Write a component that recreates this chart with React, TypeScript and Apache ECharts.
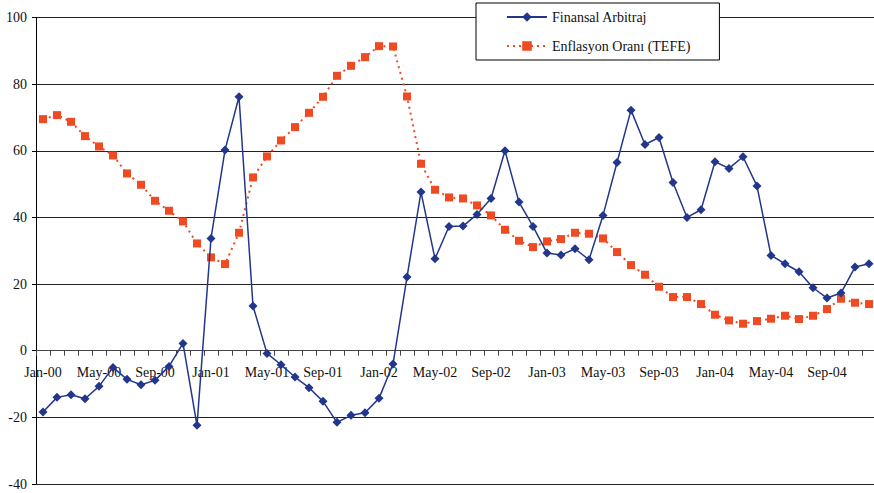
import React, { useEffect, useRef } from "react";
import * as echarts from "echarts";

const months = ["Jan", "Feb", "Mar", "Apr", "May", "Jun", "Jul", "Aug", "Sep", "Oct", "Nov", "Dec"];
const years = ["00", "01", "02", "03", "04"];
const categories: string[] = years.flatMap((y) => months.map((m) => `${m}-${y}`));

const arbitraj = [
  -18.4, -14.0, -13.2, -14.4, -10.7, -5.0, -8.6, -10.2, -8.9, -4.7, 2.2, -22.4,
  33.7, 60.2, 76.2, 13.4, -0.8, -4.2, -7.9, -11.1, -15.2, -21.5, -19.4, -18.6,
  -14.3, -4.0, 22.1, 47.6, 27.6, 37.3, 37.4, 40.9, 45.7, 60.0, 44.6, 37.3,
  29.3, 28.7, 30.6, 27.3, 40.6, 56.5, 72.2, 61.9, 64.0, 50.5, 40.0, 42.3,
  56.7, 54.7, 58.2, 49.4, 28.6, 26.1, 23.7, 18.9, 15.8, 17.3, 25.1, 26.1,
];

const tefe = [
  69.5, 70.7, 68.7, 64.4, 61.3, 58.6, 53.2, 49.8, 45.0, 42.0, 38.8, 32.2,
  28.0, 26.0, 35.4, 52.0, 58.3, 63.1, 67.1, 71.4, 76.2, 82.5, 85.5, 88.1,
  91.4, 91.3, 76.3, 56.1, 48.3, 46.0, 45.7, 43.6, 40.6, 36.3, 33.0, 31.1,
  32.8, 33.5, 35.4, 35.1, 33.7, 29.6, 25.7, 22.8, 19.2, 16.1, 16.1, 14.0,
  10.8, 9.1, 8.1, 8.9, 9.6, 10.5, 9.5, 10.5, 12.5, 15.6, 14.4, 14.0,
];

const seriesNames = ["Finansal Arbitraj", "Enflasyon Oranı (TEFE)"];
const FONT = "Liberation Serif";

const Y_MIN = -40;
const Y_MAX = 100;
const GRID_TOP = 17.5;
const GRID_H = 466.5;
// move the category axis up from the grid bottom to the value 0
const ZERO_OFFSET = -(GRID_H * (0 - Y_MIN)) / (Y_MAX - Y_MIN);

export default function App() {
  const ref = useRef<HTMLDivElement>(null);
  useEffect(() => {
    if (!ref.current) return;
    const chart = echarts.init(ref.current, null, { renderer: "svg" });
    chart.setOption({
      animation: false,
      backgroundColor: "#fff",
      textStyle: { fontFamily: FONT },
      grid: {
        left: 36,
        top: GRID_TOP,
        width: 840,
        height: GRID_H,
        containLabel: false,
        outerBoundsMode: "none",
      },
      legend: {
        orient: "vertical",
        left: 476,
        top: 3,
        padding: [7, 29, 7, 30],
        itemGap: 15,
        itemWidth: 40,
        itemHeight: 12,
        backgroundColor: "#fff",
        borderColor: "#000",
        borderWidth: 1,
        textStyle: { fontFamily: FONT, fontSize: 14, color: "#111" },
        data: seriesNames,
      },
      xAxis: {
        type: "category",
        data: categories,
        boundaryGap: true,
        position: "bottom",
        offset: ZERO_OFFSET,
        axisLine: { onZero: false, lineStyle: { color: "#444", width: 1 } },
        axisTick: { show: true, interval: 0, length: 5, inside: false, lineStyle: { color: "#444" } },
        axisLabel: { interval: 3, fontFamily: FONT, fontSize: 14, color: "#111", margin: 15 },
        splitLine: { show: false },
      },
      yAxis: {
        type: "value",
        min: Y_MIN,
        max: Y_MAX,
        interval: 20,
        axisLine: { show: true, lineStyle: { color: "#000", width: 1 } },
        axisTick: { show: true, length: 4, lineStyle: { color: "#000" } },
        axisLabel: { fontFamily: FONT, fontSize: 14, color: "#111", margin: 9 },
        splitLine: { show: true, lineStyle: { color: "#222", width: 1 } },
      },
      series: [
        {
          name: seriesNames[0],
          type: "line",
          data: arbitraj,
          symbol: "diamond",
          symbolSize: 9,
          itemStyle: { color: "#22368C" },
          lineStyle: { color: "#22368C", width: 1.5 },
          z: 3,
        },
        {
          name: seriesNames[1],
          type: "line",
          data: tefe,
          symbol: "rect",
          symbolSize: 8,
          itemStyle: { color: "#F04A22" },
          lineStyle: { color: "#F04A22", width: 2, type: [2, 4] },
          z: 2,
        },
      ],
    });
    return () => chart.dispose();
  }, []);
  return (
    <div
      ref={ref}
      style={{ position: "fixed", left: 0, top: 0, width: 874, height: 493 }}
    />
  );
}
